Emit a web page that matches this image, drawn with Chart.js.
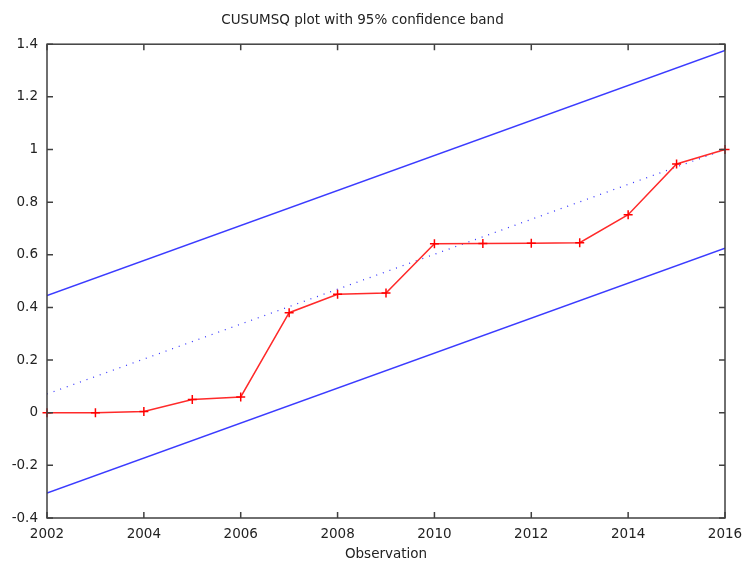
<!DOCTYPE html>
<html>
<head>
<meta charset="utf-8">
<script src="https://cdn.jsdelivr.net/npm/chart.js@4"></script>
<style>
  html, body { margin: 0; padding: 0; background: #fff; }
  #wrap { width: 745px; height: 563px; }
</style>
</head>
<body>
<div id="wrap"><canvas id="cusumChart"></canvas></div>
<script>
// data
const years = [2002, 2003, 2004, 2005, 2006, 2007, 2008, 2009, 2010, 2011, 2012, 2013, 2014, 2015, 2016];
const cusumsq = [0.0, 0.0, 0.005, 0.05, 0.06, 0.38, 0.45, 0.455, 0.642, 0.643, 0.644, 0.646, 0.752, 0.945, 1.0];
// straight lines: only the two end points
const bandYears = [2002, 2016];
const upperBand = [0.445, 1.376];
const lowerBand = [-0.305, 0.625];
const expected = [0.071, 1.0];
const xTicks = [2002, 2004, 2006, 2008, 2010, 2012, 2014, 2016];
const yTicks = [-0.4, -0.2, 0, 0.2, 0.4, 0.6, 0.8, 1, 1.2, 1.4];

const FONT = 'DejaVu Sans';
const TXT = '#222';
const FS = 13.5;

//frame + inward ticks like gnuplot
const framePlugin = {
  id: 'frame',
  afterDatasetsDraw(chart) {
    const { ctx, chartArea: a, scales } = chart;
    const len = 6;
    ctx.save();
    ctx.strokeStyle = '#404040';
    ctx.lineWidth = 1.5;
    ctx.strokeRect(a.left, a.top, a.right - a.left, a.bottom - a.top);
    ctx.beginPath();
    xTicks.forEach(v => {
      const px = scales.x.getPixelForValue(v);
      ctx.moveTo(px, a.bottom); ctx.lineTo(px, a.bottom - len);
      ctx.moveTo(px, a.top); ctx.lineTo(px, a.top + len);
    });
    yTicks.forEach(v => {
      const py = scales.y.getPixelForValue(v);
      ctx.moveTo(a.left, py); ctx.lineTo(a.left + len, py);
      ctx.moveTo(a.right, py); ctx.lineTo(a.right - len, py);
    });
    ctx.stroke();
    ctx.restore();
  }
};

const toXY = (xs, ys) => xs.map((x, i) => ({ x, y: ys[i] }));

new Chart(document.getElementById('cusumChart'), {
  type: 'line',
  data: {
    datasets: [
      {
        label: 'CUSUMSQ',
        data: toXY(years, cusumsq),
        borderColor: '#ff2a2a',
        borderWidth: 1.5,
        pointStyle: 'cross',
        pointRadius: 4.5,
        pointBorderWidth: 1.5,
        pointBorderColor: '#ff0000',
        tension: 0,
        clip: 6
      },
      {
        label: 'expected',
        data: toXY(bandYears, expected),
        borderColor: '#3030ff',
        borderWidth: 1.2,
        borderDash: [1, 6],
        pointRadius: 0
      },
      {
        label: 'upper',
        data: toXY(bandYears, upperBand),
        borderColor: '#3b3bff',
        borderWidth: 1.5,
        pointRadius: 0
      },
      {
        label: 'lower',
        data: toXY(bandYears, lowerBand),
        borderColor: '#3b3bff',
        borderWidth: 1.5,
        pointRadius: 0
      }
    ]
  },
  options: {
    responsive: true,
    maintainAspectRatio: false,
    animation: false,
    layout: { padding: { left: 0, right: 20, top: 0, bottom: 0 } },
    plugins: {
      legend: { display: false },
      tooltip: { enabled: false },
      title: {
        display: true,
        text: 'CUSUMSQ plot with 95% confidence band',
        color: TXT,
        font: { family: FONT, size: FS, weight: 'normal' },
        padding: { top: 12, bottom: 16 }
      }
    },
    scales: {
      x: {
        type: 'linear',
        min: 2002,
        max: 2016,
        afterFit: s => { s.height = 45; s.paddingLeft = 0; s.paddingRight = 0; },
        afterBuildTicks: s => { s.ticks = xTicks.map(v => ({ value: v })); },
        grid: { display: false, drawTicks: false },
        border: { display: false },
        ticks: {
          padding: 8,
          color: TXT,
          font: { family: FONT, size: FS },
          callback: v => String(v)
        },
        title: {
          display: true,
          text: 'Observation',
          color: TXT,
          font: { family: FONT, size: FS },
          padding: { top: 0, bottom: 0 }
        }
      },
      y: {
        min: -0.4,
        max: 1.4,
        afterFit: s => { s.width = 47; s.paddingTop = 0; s.paddingBottom = 0; },
        afterBuildTicks: s => { s.ticks = yTicks.map(v => ({ value: v })); },
        grid: { display: false, drawTicks: false },
        border: { display: false },
        ticks: {
          padding: 9,
          color: TXT,
          font: { family: FONT, size: FS },
          callback: v => String(Math.round(v * 10) / 10)
        }
      }
    }
  },
  plugins: [framePlugin]
});
</script>
</body>
</html>
